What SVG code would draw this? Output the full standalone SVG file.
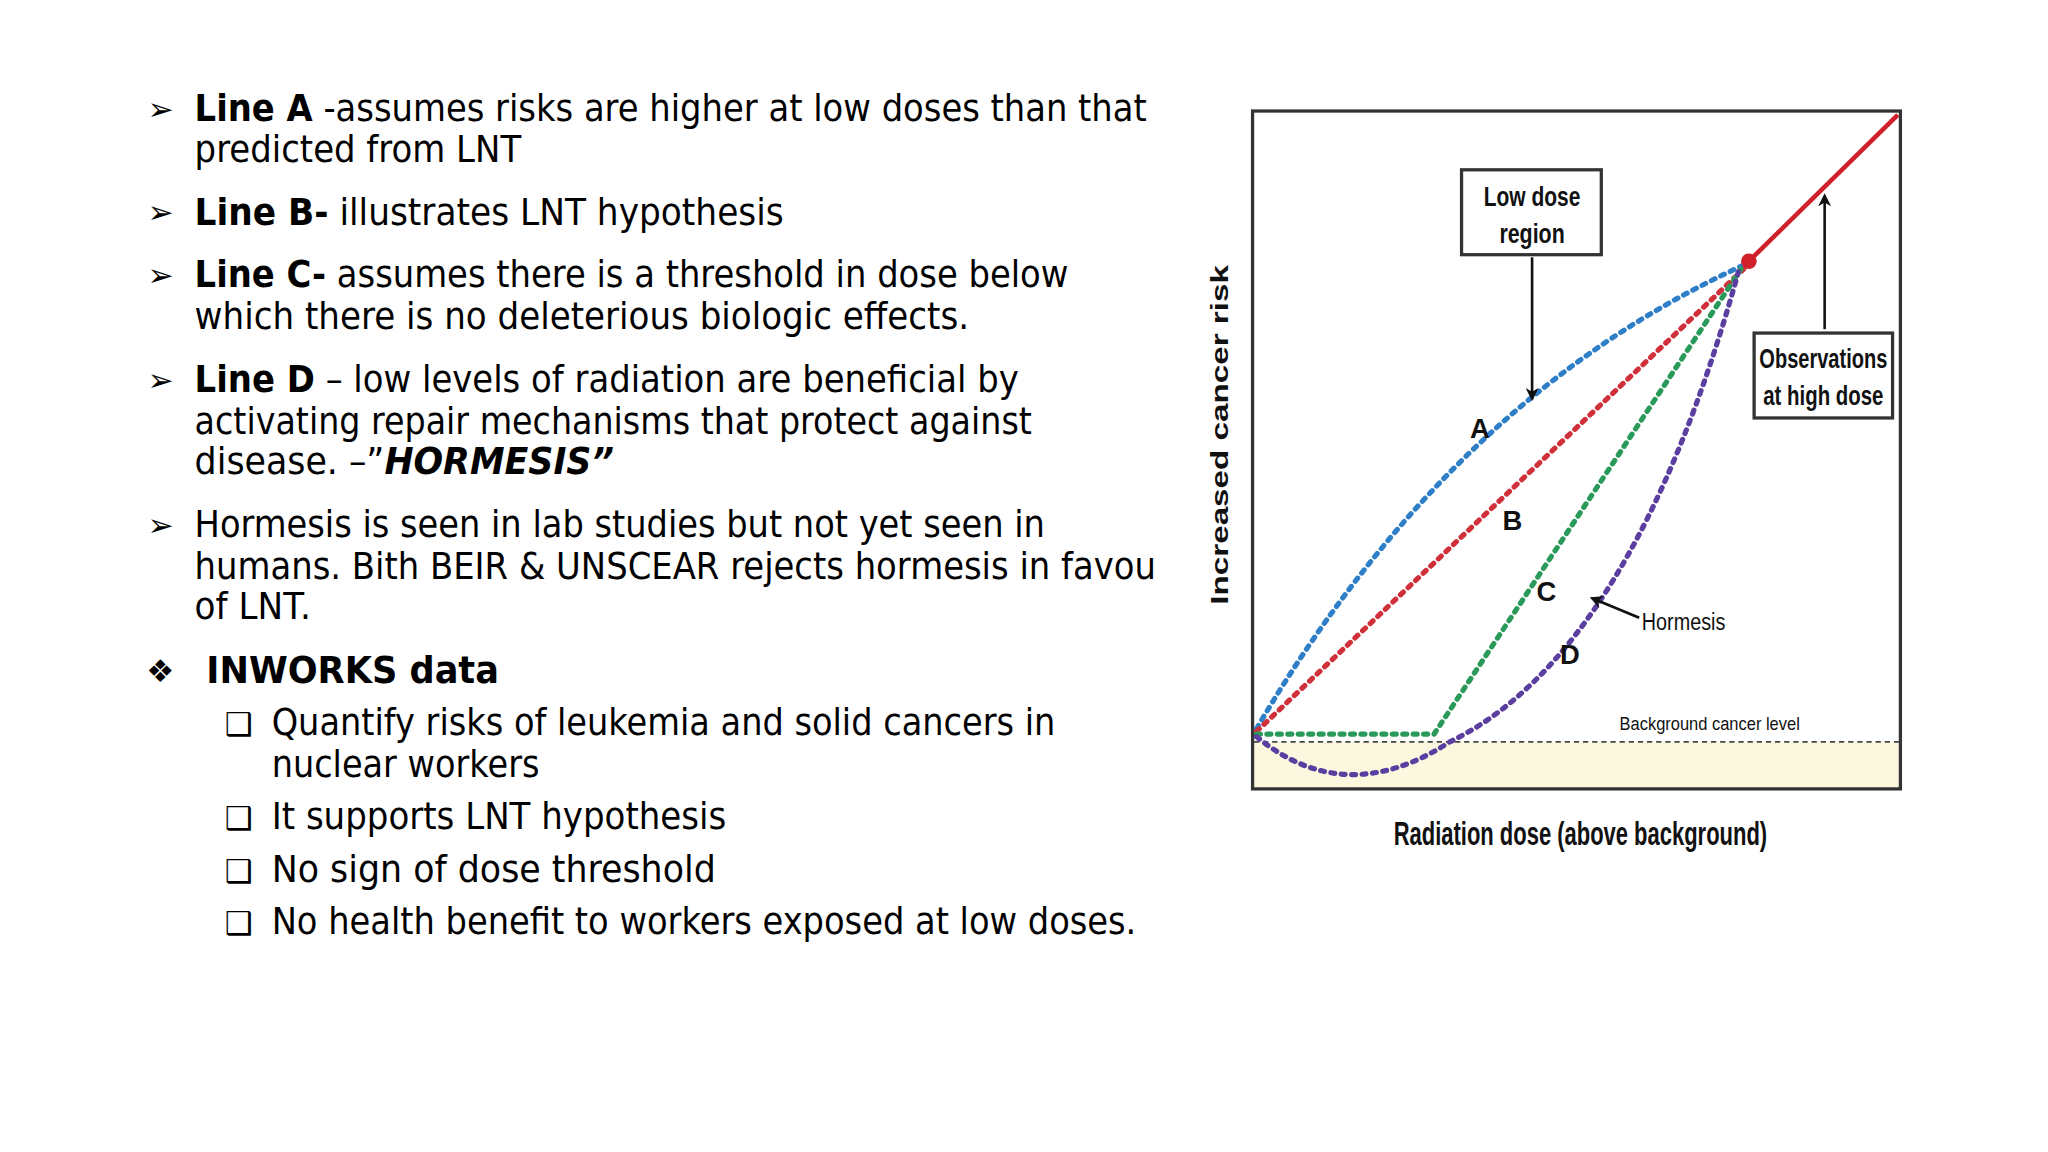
<svg xmlns="http://www.w3.org/2000/svg" width="2048" height="1152" viewBox="0 0 2048 1152">
<style>
.t{font-family:"DejaVu Sans",Verdana,sans-serif;font-size:28px;fill:#000}
.b{font-weight:bold}
.bul{font-family:"DejaVu Sans",sans-serif;font-size:24px}
.c{font-family:"Liberation Sans",Arial,sans-serif;fill:#111}
.box{fill:#fff;stroke:#333;stroke-width:2.5}
.dot{fill:none;stroke-width:4;stroke-dasharray:3 5;stroke-linecap:round}
</style>
<defs><marker id="ah" markerWidth="10" markerHeight="10" refX="8" refY="5" orient="auto" markerUnits="userSpaceOnUse"><path d="M0,0 L10,5 L0,10 L3,5 Z" fill="#111"/></marker></defs>
<rect width="2048" height="1152" fill="#fff"/>
<g transform="scale(1.30612)">
<g id="text" xml:space="preserve">
<text class="bul" x="113" y="92">➢</text>
<text class="t" x="149" y="93" textLength="729" lengthAdjust="spacingAndGlyphs"><tspan class="b">Line A</tspan> -assumes risks are higher at low doses than that</text>
<text class="t" x="149" y="124" textLength="250" lengthAdjust="spacingAndGlyphs">predicted from LNT</text>
<text class="bul" x="113" y="171">➢</text>
<text class="t" x="149" y="172" textLength="451" lengthAdjust="spacingAndGlyphs"><tspan class="b">Line B-</tspan>  illustrates LNT hypothesis</text>
<text class="bul" x="113" y="219">➢</text>
<text class="t" x="149" y="220" textLength="669" lengthAdjust="spacingAndGlyphs"><tspan class="b">Line C-</tspan> assumes there is a threshold in dose below</text>
<text class="t" x="149" y="252" textLength="593" lengthAdjust="spacingAndGlyphs">which there is no deleterious  biologic effects.</text>
<text class="bul" x="113" y="299">➢</text>
<text class="t" x="149" y="300" textLength="631" lengthAdjust="spacingAndGlyphs"><tspan class="b">Line D</tspan> – low levels of radiation are beneficial by</text>
<text class="t" x="149" y="332" textLength="641" lengthAdjust="spacingAndGlyphs">activating repair mechanisms that protect against</text>
<text class="t" x="149" y="363" textLength="321" lengthAdjust="spacingAndGlyphs">disease. –”<tspan class="b" font-style="italic">HORMESIS”</tspan></text>
<text class="bul" x="113" y="410">➢</text>
<text class="t" x="149" y="411" textLength="651" lengthAdjust="spacingAndGlyphs">Hormesis is seen in lab studies but not yet seen in</text>
<text class="t" x="149" y="443" textLength="736" lengthAdjust="spacingAndGlyphs">humans. Bith BEIR &amp; UNSCEAR rejects hormesis in favou</text>
<text class="t" x="149" y="474" textLength="89" lengthAdjust="spacingAndGlyphs">of LNT.</text>
<text class="bul" x="112" y="522">❖</text>
<text class="t b" x="158" y="523" textLength="224" lengthAdjust="spacingAndGlyphs">INWORKS data</text>
<text class="bul" x="172" y="563">❑</text>
<text class="t" x="208" y="563" textLength="600" lengthAdjust="spacingAndGlyphs">Quantify risks of leukemia and solid cancers in</text>
<text class="t" x="208" y="595" textLength="205" lengthAdjust="spacingAndGlyphs">nuclear workers</text>
<text class="bul" x="172" y="635">❑</text>
<text class="t" x="208" y="635" textLength="348" lengthAdjust="spacingAndGlyphs">It supports LNT hypothesis</text>
<text class="bul" x="172" y="675">❑</text>
<text class="t" x="208" y="675" textLength="340" lengthAdjust="spacingAndGlyphs">No sign of  dose threshold</text>
<text class="bul" x="172" y="715">❑</text>
<text class="t" x="208" y="715" textLength="662" lengthAdjust="spacingAndGlyphs">No health benefit to workers exposed at low doses.</text>
</g>
<g id="chart">
<rect x="959" y="568" width="496" height="36" fill="#fbf8df"/>
<rect x="959" y="85" width="496" height="519" fill="none" stroke="#333" stroke-width="2.5"/>
<line x1="960" y1="568" x2="1454" y2="568" stroke="#444" stroke-width="1.5" stroke-dasharray="4 3"/>
<text class="c" x="1240" y="559" font-size="14" fill="#666" textLength="138" lengthAdjust="spacingAndGlyphs">Background cancer level</text>
<text class="c" x="0" y="0" font-size="18" font-weight="bold" transform="translate(940,333) rotate(-90)" text-anchor="middle" textLength="260" lengthAdjust="spacingAndGlyphs">Increased cancer risk</text>
<text class="c" x="1210" y="647" font-size="25" font-weight="bold" text-anchor="middle" textLength="286" lengthAdjust="spacingAndGlyphs">Radiation dose (above background)</text>
</g>
<g id="connectors">
<path class="dot" stroke="#2f7fc8" d="M962,558 Q1110,305 1335,203"/>
<path class="dot" stroke="#d0303a" d="M962,560 L1335,206"/>
<path class="dot" stroke="#2a9a5a" d="M962,562 L1098,562 L1333,206"/>
<path class="dot" stroke="#5a3fa0" d="M962,564 Q1030,620 1110,568 Q1250,500 1331,208"/>
<line x1="1339" y1="200" x2="1453" y2="88" stroke="#d0202a" stroke-width="3.5"/>
<circle cx="1339" cy="200" r="6" fill="#d0202a"/>
<line x1="1173" y1="197" x2="1173" y2="305" stroke="#111" stroke-width="2" marker-end="url(#ah)"/>
<line x1="1397" y1="252" x2="1397" y2="150" stroke="#111" stroke-width="2" marker-end="url(#ah)"/>
<line x1="1255" y1="473" x2="1219" y2="458" stroke="#111" stroke-width="2" marker-end="url(#ah)"/>
</g>
<g id="lowdose">
<rect class="box" x="1119" y="130" width="107" height="65"/>
<text class="c" x="1173" y="158" font-size="21" font-weight="bold" text-anchor="middle" textLength="74" lengthAdjust="spacingAndGlyphs">Low dose</text>
<text class="c" x="1173" y="186" font-size="21" font-weight="bold" text-anchor="middle" textLength="50" lengthAdjust="spacingAndGlyphs">region</text>
</g>
<g id="observations">
<rect class="box" x="1343" y="255" width="106" height="65"/>
<text class="c" x="1396" y="282" font-size="21" font-weight="bold" text-anchor="middle" textLength="98" lengthAdjust="spacingAndGlyphs">Observations</text>
<text class="c" x="1396" y="310" font-size="21" font-weight="bold" text-anchor="middle" textLength="92" lengthAdjust="spacingAndGlyphs">at high dose</text>
</g>
<g id="labels">
<text class="c" x="1133" y="335" font-size="21" font-weight="bold" text-anchor="middle">A</text>
<text class="c" x="1158" y="406" font-size="21" font-weight="bold" text-anchor="middle">B</text>
<text class="c" x="1184" y="460" font-size="21" font-weight="bold" text-anchor="middle">C</text>
<text class="c" x="1202" y="508" font-size="21" font-weight="bold" text-anchor="middle">D</text>
<text class="c" x="1257" y="482" font-size="19" textLength="64" lengthAdjust="spacingAndGlyphs">Hormesis</text>
</g>
</g>
</svg>
